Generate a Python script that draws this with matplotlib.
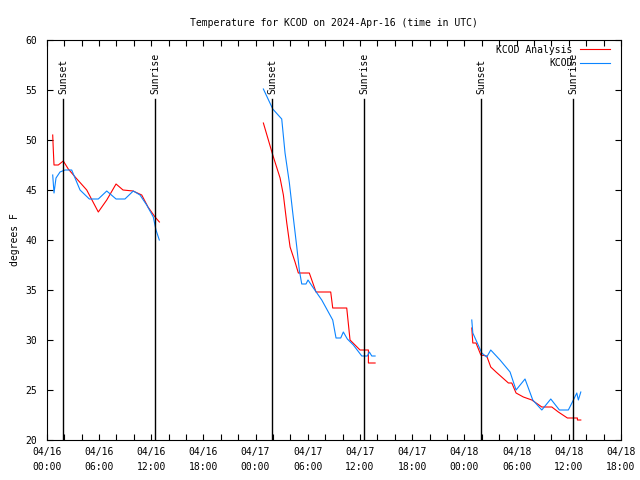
#!/usr/bin/env python3
import numpy as np
import matplotlib
matplotlib.use("Agg")
import matplotlib.pyplot as plt

# hours since 2024-04-16 00:00 UTC, NaN breaks the line between nights
analysis_hours = [0.69, 0.76, 0.84, 1.33, 1.91, 2.48, 3.37, 4.60, 5.93, 6.90, 7.97, 8.77, 9.92,
                  10.92, 11.64, 12.45, 12.95, np.nan,
                  24.90, 25.98, 26.82, 27.20, 27.59, 27.97, 28.54, 28.92, 30.18, 30.95, 32.64,
                  32.87, 34.48, 34.86, 36.01, 36.97, 36.97, 37.74, np.nan,
                  48.85, 48.97, 49.34, 49.89, 50.57, 51.03, 51.64, 53.06, 53.45, 53.94, 54.78,
                  55.75, 56.90, 58.05, 58.80, 59.84, 60.99, 60.99, 61.38]
analysis_temp = [50.5, 49.0, 47.5, 47.5, 47.9, 47.1, 46.2, 45.0, 42.8, 44.0, 45.6, 45.0, 44.9,
                 44.5, 43.3, 42.3, 41.8, np.nan,
                 51.7, 48.5, 46.2, 44.5, 41.7, 39.3, 37.8, 36.7, 36.7, 34.8, 34.8,
                 33.2, 33.2, 30.0, 29.0, 29.0, 27.7, 27.7, np.nan,
                 31.2, 29.7, 29.7, 28.5, 28.4, 27.3, 26.8, 25.7, 25.7, 24.7, 24.3,
                 24.0, 23.3, 23.3, 22.8, 22.2, 22.2, 22.0, 22.0]

obs_hours = [0.69, 0.84, 1.07, 1.53, 2.10, 2.87, 3.83, 4.90, 5.93, 6.90, 7.97, 8.99, 9.95,
             10.72, 11.49, 12.25, 12.56, 12.94, np.nan,
             24.90, 25.98, 27.01, 27.39, 27.89, 28.28, 28.74, 29.03, 29.31, 29.80, 30.03,
             30.57, 31.61, 32.87, 33.25, 33.79, 34.09, 34.55, 35.24, 36.21, 36.85, 37.08,
             37.36, 37.74, np.nan,
             48.85, 48.97, 50.00, 50.57, 51.03, 52.10, 53.25, 53.94, 54.97, 55.86, 56.90,
             57.93, 58.92, 59.95, 60.53, 60.92, 61.10, 61.38]
obs_temp = [46.5, 44.7, 46.2, 46.8, 47.0, 47.0, 45.0, 44.1, 44.1, 44.9, 44.1, 44.1, 44.9,
            44.5, 43.5, 42.3, 41.0, 40.0, np.nan,
            55.1, 53.1, 52.1, 48.7, 45.7, 42.7, 39.3, 37.0, 35.6, 35.6, 36.0,
            35.3, 34.0, 32.0, 30.2, 30.2, 30.8, 30.1, 29.5, 28.4, 28.4, 28.8,
            28.4, 28.4, np.nan,
            32.0, 30.7, 28.7, 28.3, 29.0, 28.0, 26.8, 25.0, 26.1, 24.0, 23.0,
            24.1, 23.0, 23.0, 24.0, 24.7, 24.0, 24.8]

sunset_hours = [1.87, 25.88, 49.9]
sunrise_hours = [12.45, 36.47, 60.5]

xtick_hours = list(range(0, 67, 6))
xtick_labels = ["04/16\n00:00", "04/16\n06:00", "04/16\n12:00", "04/16\n18:00",
                "04/17\n00:00", "04/17\n06:00", "04/17\n12:00", "04/17\n18:00",
                "04/18\n00:00", "04/18\n06:00", "04/18\n12:00", "04/18\n18:00"]
ytick_values = list(range(20, 61, 5))

FONT = "DejaVu Sans Mono"
FS = 7
plt.rcParams["font.family"] = FONT

fig = plt.figure(figsize=(6.4, 4.8), dpi=100)
ax = fig.add_axes([46.7 / 640, 40 / 480, (621 - 46.7) / 640, 400 / 480])

ax.plot(analysis_hours, analysis_temp, color="#ff0000", lw=0.8, label="KCOD Analysis")
ax.plot(obs_hours, obs_temp, color="#0a84ff", lw=0.8, label="KCOD")

for h in sunset_hours:
    ax.plot([h, h], [20, 54.1], color="black", lw=1.0)
    ax.text(h, 54.6, "Sunset", rotation=90, ha="center", va="bottom", fontsize=FS)
for h in sunrise_hours:
    ax.plot([h, h], [20, 54.1], color="black", lw=1.0)
    ax.text(h, 54.6, "Sunrise", rotation=90, ha="center", va="bottom", fontsize=FS)

ax.set_xlim(0, 66)
ax.set_ylim(20, 60)
ax.set_xticks(xtick_hours)
ax.set_xticklabels(xtick_labels, fontsize=FS, linespacing=1.6)
ax.set_xticks(list(range(0, 67, 2)), minor=True)
ax.set_yticks(ytick_values)
ax.set_yticklabels([str(v) for v in ytick_values], fontsize=FS)
ax.tick_params(which="both", direction="in", top=True, right=True, length=4, width=0.8)
ax.tick_params(axis="x", which="major", pad=5)
ax.tick_params(axis="y", pad=7)
for s in ax.spines.values():
    s.set_linewidth(0.8)

ax.set_ylabel("degrees F", fontsize=FS, labelpad=4)
ax.set_title("Temperature for KCOD on 2024-Apr-16 (time in UTC)", fontsize=FS, pad=10)

ax.legend(loc="upper right", markerfirst=False, frameon=False, fontsize=FS,
          handlelength=3.0, handletextpad=0.8, labelspacing=0.35,
          borderaxespad=0.3, bbox_to_anchor=(0.992, 1.005))

fig.savefig("out.png", dpi=100)
